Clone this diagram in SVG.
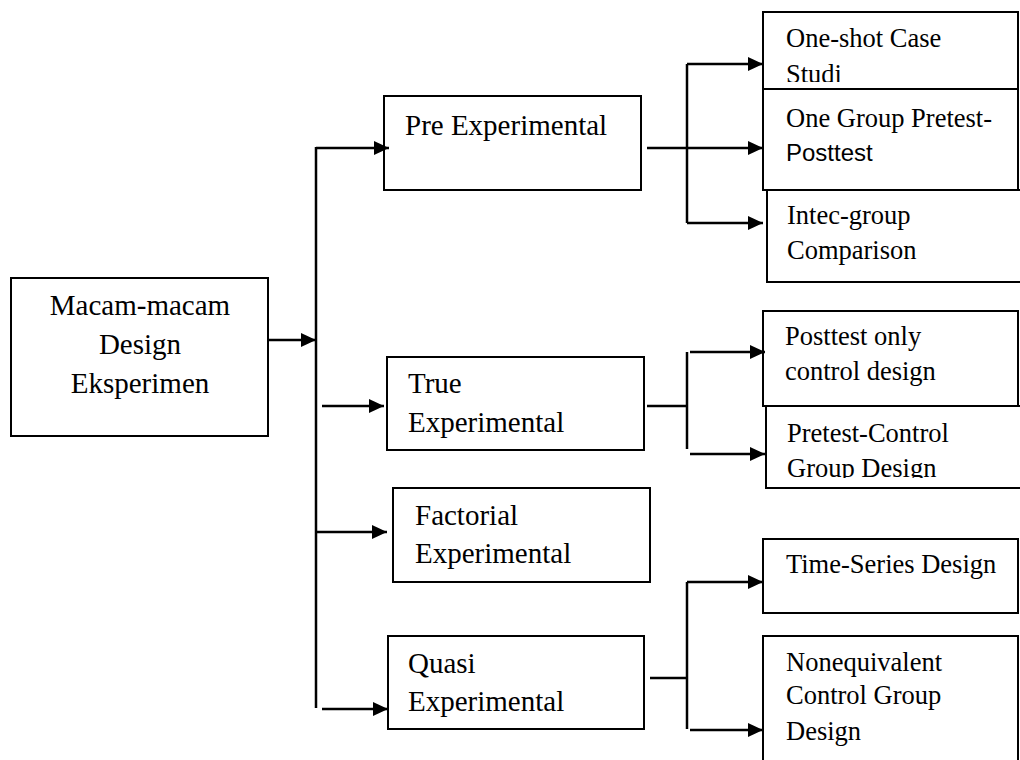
<svg xmlns="http://www.w3.org/2000/svg" width="1020" height="760" viewBox="0 0 1020 760">
<style>
.box{fill:#fff;stroke:#000;stroke-width:2}
.t{font-family:"Liberation Serif","Times New Roman",serif;font-size:29px;fill:#000}
.s{font-family:"Liberation Serif","Times New Roman",serif;font-size:26.5px;fill:#000}
.ss{font-family:"Liberation Sans",Arial,sans-serif;font-size:24px;fill:#000}
.ln{fill:none;stroke:#000;stroke-width:2.5}
.ar{fill:none;stroke:#000;stroke-width:2.5;marker-end:url(#ah)}
</style>
<defs>
<marker id="ah" viewBox="0 0 15 14" refX="15" refY="7" markerWidth="15" markerHeight="14" markerUnits="userSpaceOnUse" orient="auto">
<path d="M0,0 L15,7 L0,14 z" fill="#000"/>
</marker>
<clipPath id="c1"><rect x="763" y="12" width="257" height="70"/></clipPath>
<clipPath id="c2"><rect x="766" y="406" width="254" height="72"/></clipPath>
</defs>
<rect width="1020" height="760" fill="#fff"/>

<g id="main">
<rect class="box" x="11" y="278" width="257" height="158"/>
<text class="t" x="140" y="315" text-anchor="middle">Macam-macam</text>
<text class="t" x="140" y="354" text-anchor="middle">Design</text>
<text class="t" x="140" y="393" text-anchor="middle">Eksperimen</text>
</g>

<g id="pre">
<rect class="box" x="384" y="96" width="257" height="94"/>
<text class="t" x="405" y="135">Pre Experimental</text>
</g>

<g id="true">
<rect class="box" x="387" y="357" width="257" height="93"/>
<text class="t" x="408" y="393">True</text>
<text class="t" x="408" y="432">Experimental</text>
</g>

<g id="factorial">
<rect class="box" x="393" y="488" width="257" height="94"/>
<text class="t" x="415" y="525">Factorial</text>
<text class="t" x="415" y="563">Experimental</text>
</g>

<g id="quasi">
<rect class="box" x="388" y="636" width="256" height="93"/>
<text class="t" x="408" y="673">Quasi</text>
<text class="t" x="408" y="711">Experimental</text>
</g>

<g id="oneshot">
<rect class="box" x="763" y="12" width="255" height="77"/>
<g clip-path="url(#c1)">
<text class="s" x="786" y="47">One-shot Case</text>
<text class="s" x="786" y="83">Studi</text>
</g>
</g>

<g id="onegroup">
<rect class="box" x="763" y="89" width="255" height="101"/>
<text class="s" x="786" y="127">One Group Pretest-</text>
<text class="ss" x="786" y="161">Posttest</text>
</g>

<g id="intec">
<rect class="box" x="767" y="190" width="256" height="92"/>
<text class="s" x="787" y="224">Intec-group</text>
<text class="s" x="787" y="259">Comparison</text>
</g>

<g id="posttest">
<rect class="box" x="763" y="311" width="255" height="95"/>
<text class="s" x="785" y="345">Posttest only</text>
<text class="s" x="785" y="380">control design</text>
</g>

<g id="pretestcontrol">
<rect class="box" x="766" y="406" width="256" height="82"/>
<g clip-path="url(#c2)">
<text class="s" x="787" y="442">Pretest-Control</text>
<text class="s" x="787" y="477">Group Design</text>
</g>
</g>

<g id="timeseries">
<rect class="box" x="763" y="539" width="255" height="74"/>
<text class="s" x="786" y="573">Time-Series Design</text>
</g>

<g id="noneq">
<rect class="box" x="763" y="636" width="255" height="130"/>
<text class="s" x="786" y="671">Nonequivalent</text>
<text class="s" x="786" y="704">Control Group</text>
<text class="s" x="786" y="740">Design</text>
</g>

<g id="connectors">
<line class="ar" x1="268" y1="340" x2="316" y2="340"/>
<line class="ln" x1="316" y1="147" x2="316" y2="708"/>
<line class="ar" x1="316" y1="148" x2="389" y2="148"/>
<line class="ar" x1="322" y1="406" x2="384" y2="406"/>
<line class="ar" x1="316" y1="532" x2="387" y2="532"/>
<line class="ar" x1="322" y1="709" x2="388" y2="709"/>

<line class="ln" x1="647" y1="148" x2="687" y2="148"/>
<line class="ln" x1="687" y1="64" x2="687" y2="223"/>
<line class="ar" x1="687" y1="64" x2="763" y2="64"/>
<line class="ar" x1="687" y1="148" x2="763" y2="148"/>
<line class="ar" x1="687" y1="223" x2="763" y2="223"/>

<line class="ln" x1="647" y1="406" x2="687" y2="406"/>
<line class="ln" x1="687" y1="352" x2="687" y2="449"/>
<line class="ar" x1="690" y1="352" x2="765" y2="352"/>
<line class="ar" x1="690" y1="454" x2="765" y2="454"/>

<line class="ln" x1="650" y1="678" x2="687" y2="678"/>
<line class="ln" x1="687" y1="582" x2="687" y2="729"/>
<line class="ar" x1="687" y1="582" x2="763" y2="582"/>
<line class="ar" x1="690" y1="730" x2="763" y2="730"/>
</g>
</svg>
